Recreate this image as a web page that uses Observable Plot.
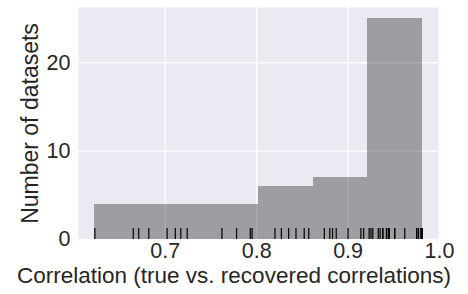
<!DOCTYPE html>
<html>
<head>
<meta charset="utf-8">
<script src="https://cdn.jsdelivr.net/npm/d3@7"></script>
<script src="https://cdn.jsdelivr.net/npm/@observablehq/plot@0.6"></script>
<style>
  html, body { margin: 0; padding: 0; background: #fff; }
</style>
</head>
<body>
<div id="chart"></div>
<script>
// Correlations (true vs. recovered) for each dataset, read from the rug
const correlations = [
  0.623, 0.665, 0.671, 0.682,
  0.702, 0.711, 0.717, 0.724,
  0.762, 0.778, 0.793, 0.795,
  0.820, 0.827, 0.835, 0.843, 0.852, 0.857,
  0.874, 0.880, 0.883, 0.887, 0.900, 0.914, 0.917,
  0.923, 0.925, 0.927, 0.933, 0.935, 0.938, 0.938, 0.942, 0.942, 0.944,
  0.945, 0.945, 0.951, 0.951, 0.962, 0.975, 0.975, 0.977, 0.977, 0.980,
  0.980, 0.980, 0.981, 0.981, 0.981
];
const binCount = 6;
const xTicks = [0.7, 0.8, 0.9, 1.0];
const yTicks = [0, 10, 20];
const xLabel = "Correlation (true vs. recovered correlations)";
const yLabel = "Number of datasets";

const lo = d3.min(correlations), hi = d3.max(correlations);
const step = (hi - lo) / binCount;
const edges = d3.range(1, binCount).map(i => lo + i * step);
const bins = d3.bin().domain([lo, hi]).thresholds(edges)(correlations)
  .map(b => ({x1: b.x0, x2: b.x1, count: b.length}));
const pad = (hi - lo) * 0.05;
const maxCount = d3.max(bins, b => b.count);

const chart = Plot.plot({
  width: 468,
  height: 294,
  marginLeft: 78,
  marginRight: 30,
  marginTop: 7,
  marginBottom: 55,
  style: {fontFamily: "'Liberation Sans', Arial, sans-serif", fontSize: "21px", color: "#262626", background: "#fff", overflow: "visible"},
  x: {domain: [lo - pad, hi + pad]},
  y: {domain: [0, maxCount * 1.05]},
  marks: [
    Plot.frame({fill: "#EAEAF2", stroke: null}),
    Plot.gridX(xTicks, {stroke: "#fff", strokeOpacity: 1, strokeWidth: 1.3}),
    Plot.gridY(yTicks, {stroke: "#fff", strokeOpacity: 1, strokeWidth: 1.3}),
    Plot.rectY(bins, {x1: "x1", x2: "x2", y: "count", fill: "#000", fillOpacity: 0.33, shapeRendering: "crispEdges"}),
    Plot.ruleX(correlations, {x: d => d, y1: 0, y2: maxCount * 0.05, stroke: "#000", strokeWidth: 1.2}),
    Plot.axisX(xTicks, {tickSize: 0, tickPadding: 3, tickFormat: d3.format(".1f"), fontSize: 21.5, label: null}),
    Plot.axisY(yTicks, {tickSize: 0, tickPadding: 8, fontSize: 21.5, label: null}),
    Plot.text([xLabel], {frameAnchor: "bottom", dx: -24.5, dy: 36, lineAnchor: "middle", fontSize: 22.5, fill: "#262626"}),
    Plot.text([yLabel], {frameAnchor: "left", dx: -48, rotate: -90, textAnchor: "middle", lineAnchor: "middle", fontSize: 23, fill: "#262626"})
  ]
});
document.getElementById("chart").appendChild(chart);
</script>
</body>
</html>
